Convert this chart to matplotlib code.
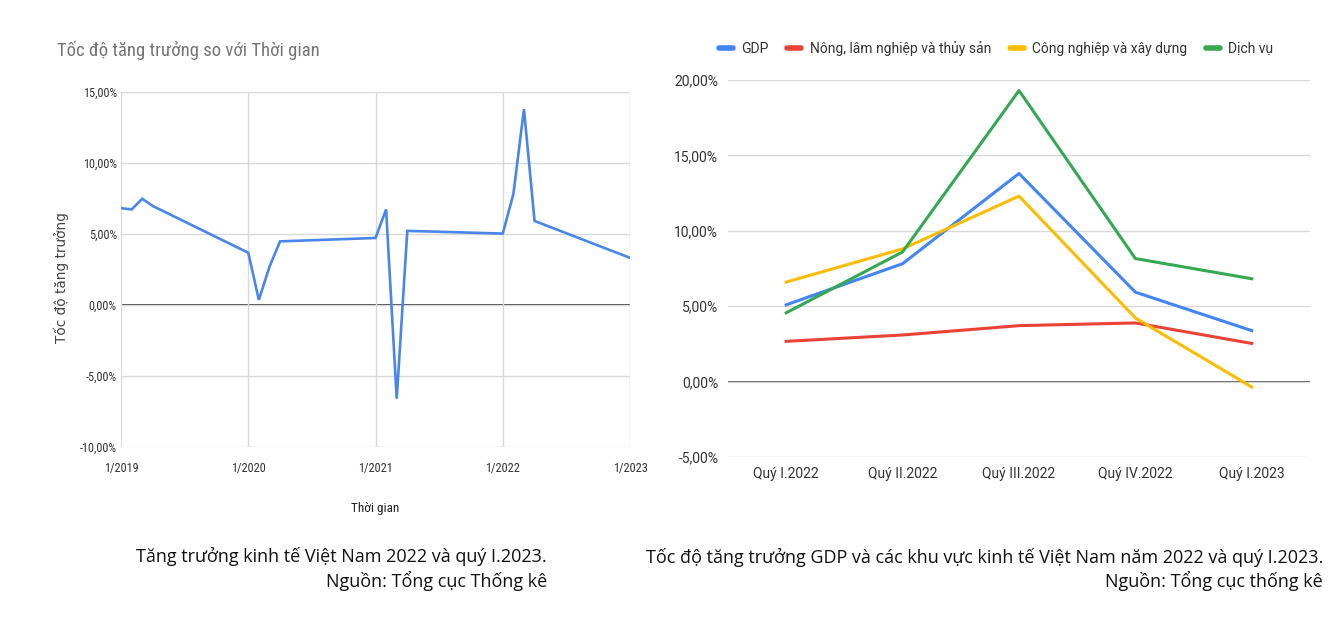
import matplotlib
matplotlib.use("Agg")
import matplotlib.pyplot as plt
from matplotlib import font_manager
from matplotlib.ticker import FuncFormatter, FixedLocator
import numpy as np

names = set(font_manager.get_font_names())
NARROW = next((f for f in ["Liberation Sans Narrow", "Roboto Condensed", "Open Sans Condensed",
                           "Arial Narrow", "Roboto"] if f in names), "DejaVu Sans")
IS_NARROW = NARROW != "Roboto"
SANS = "Roboto" if "Roboto" in names else "DejaVu Sans"
CAP = "Open Sans" if "Open Sans" in names else "DejaVu Sans"

# ---------------- Data: left chart (quarterly, plotted at month 1..4 of each year)
left_years = [2019, 2019, 2019, 2019, 2020, 2020, 2020, 2020, 2021, 2021, 2021, 2021,
              2022, 2022, 2022, 2022, 2023]
left_months = [1, 2, 3, 4, 1, 2, 3, 4, 1, 2, 3, 4, 1, 2, 3, 4, 1]
left_values = [6.82, 6.73, 7.48, 6.97, 3.68, 0.36, 2.69, 4.48, 4.72, 6.73, -6.6, 5.22,
               5.03, 7.8, 13.8, 5.92, 3.32]
left_xticks = ["1/2019", "1/2020", "1/2021", "1/2022", "1/2023"]

# ---------------- Data: right chart
quarters = ["Quý I.2022", "Quý II.2022", "Quý III.2022", "Quý IV.2022", "Quý I.2023"]
series_names = ["GDP", "Nông, lâm nghiệp và thủy sản", "Công nghiệp và xây dựng", "Dịch vụ"]
gdp = [5.09, 7.82, 13.8, 5.93, 3.38]
nong_lam = [2.67, 3.09, 3.71, 3.89, 2.53]
cong_nghiep = [6.6, 8.8, 12.3, 4.22, -0.36]
dich_vu = [4.56, 8.6, 19.3, 8.16, 6.82]
colors = ["#4285F4", "#EA4335", "#FBBC04", "#34A853"]

pct = FuncFormatter(lambda v, p: ("%.2f%%" % v).replace(".", ","))

fig = plt.figure(figsize=(13.31, 6.26), dpi=100)
fig.patch.set_facecolor("white")

# ---------------- Left chart
ax1 = fig.add_axes([121/1331, 1-447/626, (630-121)/1331, (447-92)/626])
lx = [y + (m - 1) / 12 for y, m in zip(left_years, left_months)]
ax1.plot(lx, left_values, color="#4A86E8", lw=1.9, solid_joinstyle="miter")
ax1.set_xlim(2019, 2023)
ax1.set_ylim(-10, 15)
ax1.xaxis.set_major_locator(FixedLocator([2019, 2020, 2021, 2022, 2023]))
ax1.set_xticklabels(left_xticks)
ax1.set_yticks([-10, -5, 0, 5, 10, 15])
ax1.yaxis.set_major_formatter(pct)
ax1.grid(True, color="#d9d9d9", lw=1.0)
ax1.axhline(0, color="#333333", lw=1.3, zorder=1.5)
for s in ax1.spines.values():
    s.set_visible(False)
tick_fs = 8.8 if IS_NARROW else 8.0
ax1.tick_params(length=0, labelsize=tick_fs, colors="#333333")
ax1.tick_params(axis="x", pad=11)
ax1.tick_params(axis="y", pad=3)
for t in ax1.get_xticklabels() + ax1.get_yticklabels():
    t.set_fontfamily(NARROW)
ax1.set_xlabel("Thời gian", fontfamily=NARROW, fontsize=tick_fs + 0.7, color="#222222",
               labelpad=19)
ax1.set_ylabel("Tốc độ tăng trưởng", fontfamily="DejaVu Sans", fontsize=9.8,
               color="#444444")
ax1.yaxis.set_label_coords((69 - 121) / 509, (447 - 278) / 355)
fig.text(57/1331, 1-50/626, "Tốc độ tăng trưởng so với Thời gian", fontfamily=NARROW,
         fontsize=13.5 if IS_NARROW else 12, color="#757575", va="center", ha="left")

# ---------------- Right chart
ax2 = fig.add_axes([728/1331, 1-457/626, (1310-728)/1331, (457-80)/626])
xs = np.arange(len(quarters))
for vals, name, c in zip([gdp, nong_lam, cong_nghiep, dich_vu], series_names, colors):
    ax2.plot(xs, vals, color=c, lw=2.2, label=name)
ax2.set_xlim(-0.5, len(quarters) - 0.5)
ax2.set_ylim(-5, 20)
ax2.set_xticks(xs)
ax2.set_xticklabels(quarters)
ax2.set_yticks([-5, 0, 5, 10, 15, 20])
ax2.yaxis.set_major_formatter(pct)
ax2.grid(True, axis="y", color="#d9d9d9", lw=1.0)
ax2.axhline(0, color="#444444", lw=1.3, zorder=1.5)
for s in ax2.spines.values():
    s.set_visible(False)
ax2.tick_params(length=0, labelsize=10, colors="#333333", pad=7)
for t in ax2.get_xticklabels() + ax2.get_yticklabels():
    t.set_fontfamily(SANS)
leg = ax2.legend(loc="lower left", bbox_to_anchor=(-0.025, 1.05), ncol=4, frameon=False,
                 prop={"family": SANS, "size": 10}, handlelength=1.0, handletextpad=0.6,
                 columnspacing=1.35, borderaxespad=0)
for h in leg.get_lines():
    h.set_linewidth(4)
    h.set_solid_capstyle("round")
for t in leg.get_texts():
    t.set_color("#333333")

# ---------------- Captions
cap_fs = 13
fig.text(547/1331, 1-556/626, "Tăng trưởng kinh tế Việt Nam 2022 và quý I.2023.",
         fontfamily=CAP, fontsize=cap_fs, ha="right", va="center", color="#111111")
fig.text(547/1331, 1-581/626, "Nguồn: Tổng cục Thống kê",
         fontfamily=CAP, fontsize=cap_fs, ha="right", va="center", color="#111111")
fig.text(1323/1331, 1-557/626,
         "Tốc độ tăng trưởng GDP và các khu vực kinh tế Việt Nam năm 2022 và quý I.2023.",
         fontfamily=CAP, fontsize=cap_fs, ha="right", va="center", color="#111111")
fig.text(1323/1331, 1-581/626, "Nguồn: Tổng cục thống kê",
         fontfamily=CAP, fontsize=cap_fs, ha="right", va="center", color="#111111")

fig.savefig("out.png", dpi=100, facecolor="white")
